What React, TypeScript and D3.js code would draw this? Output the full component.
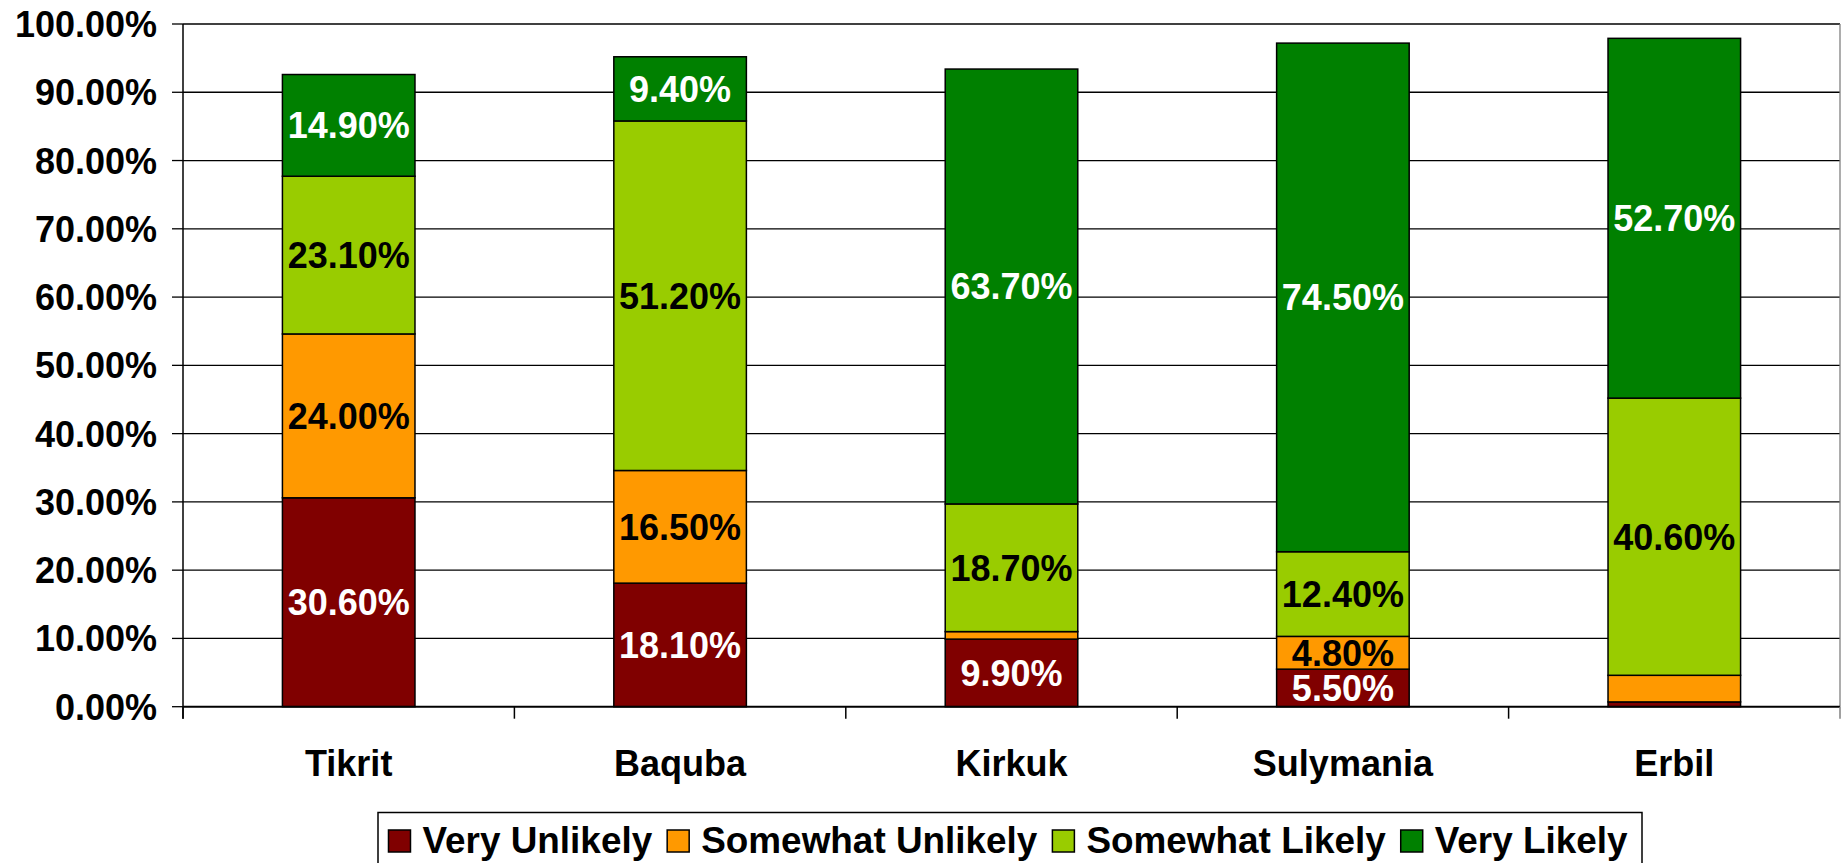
import React, { useEffect, useRef } from 'react';
import * as d3 from 'd3';

const categories = ['Tikrit', 'Baquba', 'Kirkuk', 'Sulymania', 'Erbil'];
const seriesNames = ['Very Unlikely', 'Somewhat Unlikely', 'Somewhat Likely', 'Very Likely'];
const veryUnlikely = [30.6, 18.1, 9.9, 5.5, 0.7];
const somewhatUnlikely = [24.0, 16.5, 1.1, 4.8, 3.9];
const somewhatLikely = [23.1, 51.2, 18.7, 12.4, 40.6];
const veryLikely = [14.9, 9.4, 63.7, 74.5, 52.7];
const yTicks = [0, 10, 20, 30, 40, 50, 60, 70, 80, 90, 100];
const seriesColors = ['#800000', '#FF9900', '#99CC00', '#008000'];
const labelColors = ['#ffffff', '#000000', '#000000', '#ffffff'];

const W = 1847;
const H = 863;
const FONT = '"Liberation Sans", Arial, sans-serif';

export default function App() {
  const svgRef = useRef<SVGSVGElement | null>(null);

  useEffect(() => {
    const svg = d3.select(svgRef.current);
    svg.selectAll('*').remove();

    const left = 183;
    const right = 1840;
    const top = 24;
    const bottom = 706.7;

    const x = d3.scaleBand<string>()
      .domain(categories)
      .range([left, right])
      .paddingInner(0.6)
      .paddingOuter(0.3);
    const y = d3.scaleLinear().domain([0, 100]).range([bottom, top]);

    const rows = categories.map((c, i) => ({
      cat: c,
      [seriesNames[0]]: veryUnlikely[i],
      [seriesNames[1]]: somewhatUnlikely[i],
      [seriesNames[2]]: somewhatLikely[i],
      [seriesNames[3]]: veryLikely[i],
    }));
    const stacked = d3.stack<any>().keys(seriesNames)(rows);

    // gridlines
    svg.append('g')
      .selectAll('line')
      .data(yTicks.filter(t => t > 0))
      .enter().append('line')
      .attr('x1', left).attr('x2', right)
      .attr('y1', d => y(d)).attr('y2', d => y(d))
      .attr('stroke', '#000').attr('stroke-width', 1.3);

    // plot right border
    svg.append('line')
      .attr('x1', right).attr('x2', right)
      .attr('y1', top).attr('y2', bottom)
      .attr('stroke', '#808080').attr('stroke-width', 1.3);

    // bars
    stacked.forEach((s, si) => {
      svg.append('g')
        .selectAll('rect')
        .data(s)
        .enter().append('rect')
        .attr('x', d => x(d.data.cat) as number)
        .attr('width', x.bandwidth())
        .attr('y', d => y(d[1]))
        .attr('height', d => y(d[0]) - y(d[1]))
        .attr('fill', seriesColors[si])
        .attr('stroke', '#000')
        .attr('stroke-width', 1.5);
    });

    // value labels (small segments have none)
    stacked.forEach((s, si) => {
      svg.append('g')
        .selectAll('text')
        .data(s.filter(d => d[1] - d[0] >= 4))
        .enter().append('text')
        .attr('x', d => (x(d.data.cat) as number) + x.bandwidth() / 2)
        .attr('y', d => (y(d[0]) + y(d[1])) / 2)
        .attr('dy', '0.36em')
        .attr('text-anchor', 'middle')
        .attr('font-family', FONT)
        .attr('font-weight', 'bold')
        .attr('font-size', 36)
        .attr('fill', labelColors[si])
        .text(d => (d[1] - d[0]).toFixed(2) + '%');
    });

    // y axis
    svg.append('line')
      .attr('x1', left).attr('x2', left)
      .attr('y1', top).attr('y2', bottom + 12)
      .attr('stroke', '#000').attr('stroke-width', 1.5);
    svg.append('g')
      .selectAll('line')
      .data(yTicks)
      .enter().append('line')
      .attr('x1', left - 11).attr('x2', left)
      .attr('y1', d => y(d)).attr('y2', d => y(d))
      .attr('stroke', '#000').attr('stroke-width', 1.3);
    svg.append('g')
      .selectAll('text')
      .data(yTicks)
      .enter().append('text')
      .attr('x', 157)
      .attr('y', d => y(d))
      .attr('dy', '0.36em')
      .attr('text-anchor', 'end')
      .attr('font-family', FONT)
      .attr('font-weight', 'bold')
      .attr('font-size', 36)
      .text(d => d.toFixed(2) + '%');

    // x axis
    svg.append('line')
      .attr('x1', left).attr('x2', right)
      .attr('y1', bottom).attr('y2', bottom)
      .attr('stroke', '#000').attr('stroke-width', 2);
    const step = x.step();
    svg.append('g')
      .selectAll('line')
      .data(d3.range(categories.length + 1))
      .enter().append('line')
      .attr('x1', i => left + i * step).attr('x2', i => left + i * step)
      .attr('y1', bottom).attr('y2', bottom + 12)
      .attr('stroke', i => (i === categories.length ? '#808080' : '#000'))
      .attr('stroke-width', 1.5);
    svg.append('g')
      .selectAll('text')
      .data(categories)
      .enter().append('text')
      .attr('x', d => (x(d) as number) + x.bandwidth() / 2)
      .attr('y', 763)
      .attr('dy', '0.36em')
      .attr('text-anchor', 'middle')
      .attr('font-family', FONT)
      .attr('font-weight', 'bold')
      .attr('font-size', 36)
      .text(d => d);

    // legend
    const lg = svg.append('g');
    lg.append('rect')
      .attr('x', 378).attr('y', 812.5)
      .attr('width', 1642 - 378).attr('height', 70)
      .attr('fill', '#fff').attr('stroke', '#000').attr('stroke-width', 1.5);
    const items = lg.append('g');
    let cx = 0;
    seriesNames.forEach((name, i) => {
      items.append('rect')
        .attr('x', cx).attr('y', 830)
        .attr('width', 22).attr('height', 22)
        .attr('fill', seriesColors[i])
        .attr('stroke', '#000').attr('stroke-width', 1.5);
      const t = items.append('text')
        .attr('x', cx + 34)
        .attr('y', 840)
        .attr('dy', '0.36em')
        .attr('font-family', FONT)
        .attr('font-weight', 'bold')
        .attr('font-size', 36.9)
        .text(name);
      const w = (t.node() as SVGTextElement).getComputedTextLength();
      cx += 34 + w + 15;
    });
    const total = cx - 15;
    items.attr('transform', `translate(${389 + (1627 - 389 - total) / 2},0)`);
  }, []);

  return (
    <svg
      ref={svgRef}
      width={W}
      height={H}
      style={{ position: 'absolute', left: 0, top: 0, display: 'block', background: '#fff' }}
    />
  );
}
